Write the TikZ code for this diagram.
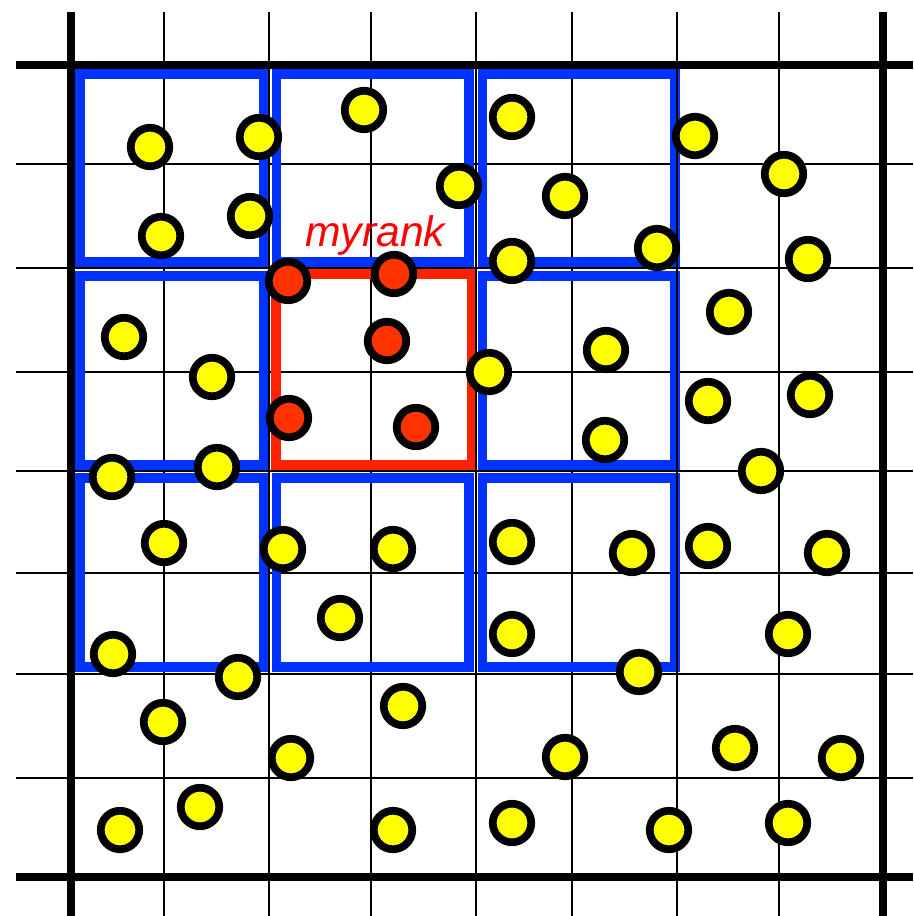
\documentclass[tikz,border=0pt]{standalone}
\usepackage{fontspec}
\setmainfont{Liberation Sans}
\definecolor{boxblue}{RGB}{0,51,255}
\definecolor{rankred}{RGB}{255,34,0}
\definecolor{partyellow}{RGB}{255,255,0}
\definecolor{partred}{RGB}{255,51,0}
\definecolor{labelred}{RGB}{255,0,0}
\tikzset{
  gridthin/.style={line width=1.13pt, draw=black},
  gridthick/.style={line width=4pt, draw=black},
  blockbox/.style={draw=boxblue, line width=5.67pt},
  rankbox/.style={draw=rankred, line width=5.67pt},
  particle/.style={circle, draw=black, line width=4.4pt, fill=partyellow, minimum size=0.77cm, inner sep=0pt},
  myparticle/.style={particle, fill=partred},
  ranklabel/.style={anchor=base west, inner sep=0pt, text=labelred, font=\fontsize{24.3}{28}\selectfont\itshape}
}
\begin{document}
\begin{tikzpicture}[x=0.02cm, y=-0.02cm]
\useasboundingbox (0,0) rectangle (913,916);
% interior grid lines (under the boxes)
\foreach \x in {164,371,572,779} \draw[gridthin] (\x,12) -- (\x,916);
\foreach \y in {164,372,573,778} \draw[gridthin] (16,\y) -- (913,\y);
% neighbour blocks
\draw[blockbox] (80,74) rectangle (264,262);
\draw[blockbox] (276.5,74) rectangle (469,262);
\draw[blockbox] (482.5,74) rectangle (675,262);
\draw[blockbox] (80,276) rectangle (264,465);
\draw[blockbox] (482.5,276) rectangle (675,465);
\draw[blockbox] (80,478) rectangle (264,667);
\draw[blockbox] (276.5,478) rectangle (469,667);
\draw[blockbox] (482.5,478) rectangle (675,667);
% my block
\draw[rankbox] (276,274) rectangle (472,465);
% block boundary grid lines (over the boxes)
\foreach \x in {269,476,677} \draw[gridthin] (\x,12) -- (\x,916);
\foreach \y in {268,471,674} \draw[gridthin] (16,\y) -- (913,\y);
% domain boundary
\draw[gridthick] (71,12) -- (71,916);
\draw[gridthick] (883,12) -- (883,916);
\draw[gridthick] (16,65) -- (913,65);
\draw[gridthick] (16,877) -- (913,877);
% particles
\node[particle] (y1) at (150,147) {};
\node[particle] (y2) at (259,137) {};
\node[particle] (y3) at (161,236) {};
\node[particle] (y4) at (250,216) {};
\node[particle] (y5) at (364,110) {};
\node[particle] (y6) at (459,186) {};
\node[particle] (y7) at (512,117) {};
\node[particle] (y8) at (565,196) {};
\node[particle] (y9) at (657,248) {};
\node[particle] (y10) at (695,136) {};
\node[particle] (y11) at (784,174) {};
\node[particle] (y12) at (808,259) {};
\node[particle] (y13) at (512,261) {};
\node[particle] (y14) at (124,337) {};
\node[particle] (y15) at (212,377) {};
\node[particle] (y16) at (489,372) {};
\node[particle] (y17) at (606,350) {};
\node[particle] (y18) at (729,312) {};
\node[particle] (y19) at (708,401) {};
\node[particle] (y20) at (810,395) {};
\node[particle] (y21) at (605,440) {};
\node[particle] (y22) at (761,471) {};
\node[particle] (y23) at (112,477) {};
\node[particle] (y24) at (217,467) {};
\node[particle] (y25) at (164,543) {};
\node[particle] (y26) at (283,549) {};
\node[particle] (y27) at (393,549) {};
\node[particle] (y28) at (512,542) {};
\node[particle] (y29) at (632,553) {};
\node[particle] (y30) at (708,546) {};
\node[particle] (y31) at (827,553) {};
\node[particle] (y32) at (340,618) {};
\node[particle] (y33) at (512,634) {};
\node[particle] (y34) at (113,654) {};
\node[particle] (y35) at (238,677) {};
\node[particle] (y36) at (639,672) {};
\node[particle] (y37) at (788,634) {};
\node[particle] (y38) at (163,722) {};
\node[particle] (y39) at (403,706) {};
\node[particle] (y40) at (291,758) {};
\node[particle] (y41) at (565,757) {};
\node[particle] (y42) at (735,748) {};
\node[particle] (y43) at (841,758) {};
\node[particle] (y44) at (120,830) {};
\node[particle] (y45) at (200,807) {};
\node[particle] (y46) at (393,830) {};
\node[particle] (y47) at (512,823) {};
\node[particle] (y48) at (669,830) {};
\node[particle] (y49) at (788,823) {};
\node[myparticle] (r1) at (288,281) {};
\node[myparticle] (r2) at (394,274) {};
\node[myparticle] (r3) at (387,341) {};
\node[myparticle] (r4) at (289,418) {};
\node[myparticle] (r5) at (416,427) {};
% label
\node[ranklabel] (myrank) at (305,246) {myrank};
\end{tikzpicture}
\end{document}
